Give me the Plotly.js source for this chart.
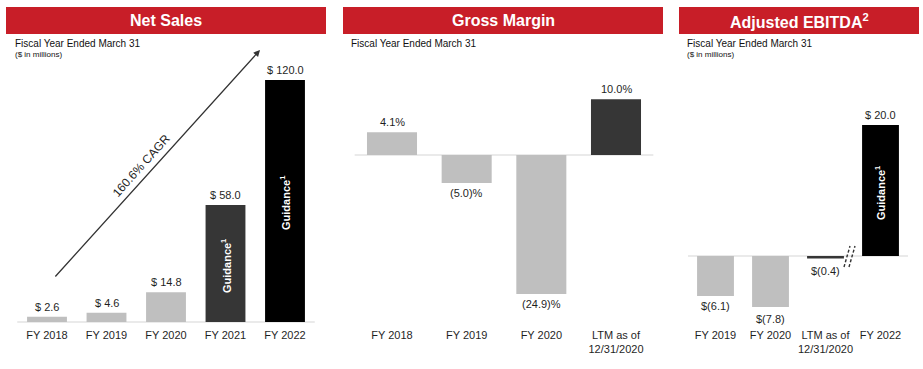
<!DOCTYPE html>
<html>
<head>
<meta charset="utf-8">
<script src="https://cdn.plot.ly/plotly-3.0.1.min.js"></script>
<style>
  html, body { margin: 0; padding: 0; background: #fff; }
  #chart { width: 923px; height: 369px; }
</style>
</head>
<body>
<div id="chart"></div>
<script>
// ---------- DATA ----------
const nsCats = ['FY 2018', 'FY 2019', 'FY 2020', 'FY 2021', 'FY 2022'];
const nsValues = [2.6, 4.6, 14.8, 58.0, 120.0];
const nsLabels = ['$ 2.6', '$ 4.6', '$ 14.8', '$ 58.0', '$ 120.0'];
const nsGuidance = [false, false, false, true, true];

const gmCats = ['FY 2018', 'FY 2019', 'FY 2020', 'LTM as of<br>12/31/2020'];
const gmValues = [4.1, -5.0, -24.9, 10.0];
const gmLabels = ['4.1%', '(5.0)%', '(24.9)%', '10.0%'];

const ebCats = ['FY 2019', 'FY 2020', 'LTM as of<br>12/31/2020', 'FY 2022'];
const ebValues = [-6.1, -7.8, -0.4, 20.0];
const ebLabels = ['$(6.1)', '$(7.8)', '$(0.4)', '$ 20.0'];
const ebGuidance = [false, false, false, true];

const panelTitles = ['Net Sales', 'Gross Margin', 'Adjusted EBITDA<sup>2</sup>'];
const subTitle = 'Fiscal Year Ended March 31';
const unitNote = '($ in millions)';
const cagrText = '160.6% CAGR';
const guidanceText = 'Guidance<sup>1</sup>';

// ---------- STYLE ----------
const W = 923, H = 369;
const FONT = 'Liberation Sans, Arial, Helvetica, sans-serif';
const RED = '#C81E28';
const GRAY = '#BFBFBF', DARK = '#363636', BLACK = '#000000';
const TXT = '#1f1f1f';
const nsColors = [GRAY, GRAY, GRAY, DARK, BLACK];
const gmColors = [GRAY, GRAY, GRAY, DARK];
const ebColors = [GRAY, GRAY, DARK, BLACK];

const px = v => v / W;
const py = v => 1 - v / H;
const BOTTOM = 323;

function bar(x, y, colors, xa, ya) {
  return {
    type: 'bar', x: x, y: y, xaxis: xa, yaxis: ya,
    marker: { color: colors, line: { width: 0 } },
    width: 0.67, hoverinfo: 'skip', showlegend: false
  };
}

const data = [
  bar(nsCats, nsValues, nsColors, 'x', 'y'),
  bar(gmCats, gmValues, gmColors, 'x2', 'y2'),
  bar(ebCats, ebValues, ebColors, 'x3', 'y3')
];

const annotations = [];
const shapes = [];

// header bands + titles
const bands = [[6, 326], [343, 663], [679, 919]];
bands.forEach((b, i) => {
  shapes.push({ type: 'rect', xref: 'paper', yref: 'paper', x0: px(b[0]), x1: px(b[1]),
    y0: py(34), y1: py(7), fillcolor: RED, line: { width: 0 }, layer: 'below' });
  annotations.push({ xref: 'paper', yref: 'paper', x: px((b[0] + b[1]) / 2), y: py(20.5),
    text: '<b>' + panelTitles[i] + '</b>', showarrow: false, xanchor: 'center', yanchor: 'middle',
    font: { family: FONT, size: 16, color: '#ffffff' } });
});

// subtitles
[14, 350, 686].forEach(x => {
  annotations.push({ xref: 'paper', yref: 'paper', x: px(x - 1), y: py(44), text: subTitle,
    showarrow: false, xanchor: 'left', yanchor: 'middle', font: { family: FONT, size: 10, color: '#111' } });
});
[14, 686].forEach(x => {
  annotations.push({ xref: 'paper', yref: 'paper', x: px(x - 1), y: py(54.5), text: unitNote,
    showarrow: false, xanchor: 'left', yanchor: 'middle', font: { family: FONT, size: 8, color: '#111' } });
});

// value labels
function valueLabels(cats, vals, labels, xa, ya, shiftsNeg) {
  cats.forEach((c, i) => {
    const neg = vals[i] < 0;
    annotations.push({ xref: xa, yref: ya, x: c, y: vals[i], text: labels[i], showarrow: false,
      xanchor: 'center', yanchor: neg ? 'top' : 'bottom', yshift: neg ? -(shiftsNeg ? shiftsNeg[i] : 2) : 2,
      font: { family: FONT, size: 11, color: TXT } });
  });
}
valueLabels(nsCats, nsValues, nsLabels, 'x', 'y');
valueLabels(gmCats, gmValues, gmLabels, 'x2', 'y2', [2, 2, 2, 2]);
valueLabels(ebCats, ebValues, ebLabels, 'x3', 'y3', [2, 4, 4, 2]);

// guidance labels inside bars
function guidance(cats, vals, flags, xa, ya) {
  cats.forEach((c, i) => {
    if (!flags[i]) return;
    annotations.push({ xref: xa, yref: ya, x: c, y: vals[i] / 2, text: '<b>' + guidanceText + '</b>',
      showarrow: false, textangle: -90, xanchor: 'center', yanchor: 'middle', yshift: -2,
      font: { family: FONT, size: 11, color: '#ffffff' } });
  });
}
guidance(nsCats, nsValues, nsGuidance, 'x', 'y');
guidance(ebCats, ebValues, ebGuidance, 'x3', 'y3');

// CAGR arrow + text
annotations.push({ xref: 'paper', yref: 'paper', x: px(260), y: py(50), ax: -206, ay: 228,
  text: '', showarrow: true, arrowhead: 2, arrowsize: 1, arrowwidth: 1.3, arrowcolor: '#333', standoff: 0 });
annotations.push({ xref: 'paper', yref: 'paper', x: px(141), y: py(166), text: cagrText, showarrow: false,
  xanchor: 'center', yanchor: 'middle', textangle: -48, font: { family: FONT, size: 12, color: TXT } });

// baselines
[['x', 'y'], ['x2', 'y2'], ['x3', 'y3']].forEach(r => {
  shapes.push({ type: 'line', xref: r[0] + ' domain', yref: r[1], x0: 0, x1: 1, y0: 0, y1: 0,
    line: { color: '#e3e3e3', width: 1.6 }, layer: 'below' });
});

// axis break marks on EBITDA
[[844, 850], [849, 855]].forEach(p => {
  shapes.push({ type: 'line', xref: 'paper', yref: 'paper', x0: px(p[0]), y0: py(267), x1: px(p[1]), y1: py(246),
    line: { color: '#333', width: 1.4, dash: '3px,2px' } });
});

function xaxis(l, r) {
  return { domain: [px(l), px(r)], type: 'category', showgrid: false, zeroline: false, showline: false,
    ticks: '', ticklabelstandoff: 4, tickfont: { family: FONT, size: 11, color: TXT }, fixedrange: true };
}
function yaxis(top, base, scale) {
  return { domain: [1 - BOTTOM / H, 1 - top / H], range: [-(BOTTOM - base) / scale, (base - top) / scale],
    visible: false, showgrid: false, zeroline: false, fixedrange: true };
}

const layout = {
  width: W, height: H, margin: { l: 0, r: 0, t: 0, b: 0 },
  paper_bgcolor: '#fff', plot_bgcolor: 'rgba(0,0,0,0)',
  font: { family: FONT, color: TXT },
  bargap: 0.33,
  xaxis: xaxis(17.25, 314.75), yaxis: yaxis(60, 322, 2.017),
  xaxis2: xaxis(354.67, 653.33), yaxis2: yaxis(80, 155, 5.579),
  xaxis3: xaxis(688, 908), yaxis3: yaxis(100, 256, 6.55),
  shapes: shapes, annotations: annotations, showlegend: false
};

Plotly.newPlot('chart', data, layout, { displayModeBar: false, staticPlot: true });
</script>
</body>
</html>
